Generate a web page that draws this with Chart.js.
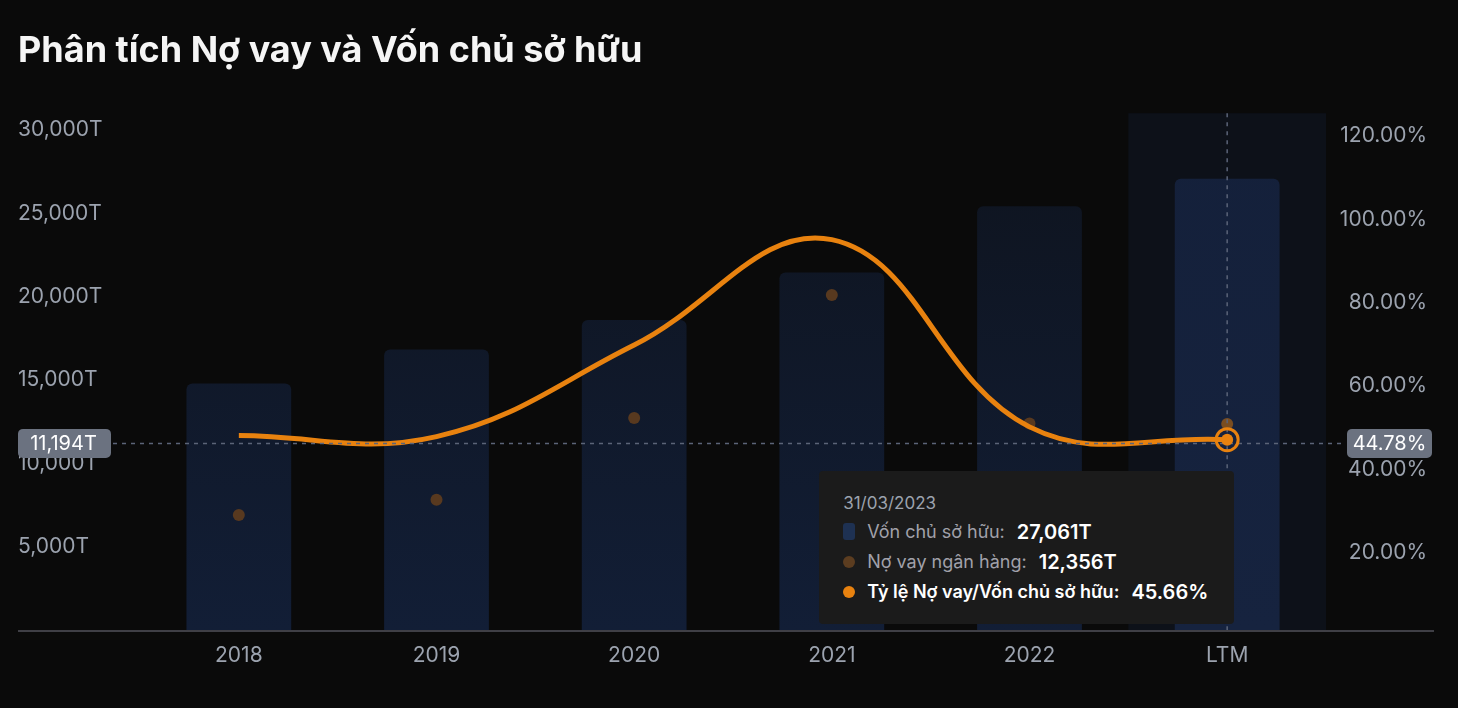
<!DOCTYPE html>
<html lang="vi">
<head>
<meta charset="utf-8">
<title>Phân tích Nợ vay và Vốn chủ sở hữu</title>
<script src="https://cdn.jsdelivr.net/npm/chart.js@4.4.1/dist/chart.umd.min.js"></script>
<style>
    html, body { margin: 0; padding: 0; background: #0a0a0a; }
    #wrap { position: relative; width: 1458px; height: 708px; }
    #debtTip {
        position: absolute; background: #1b1b1b; border-radius: 4px;
        padding: 20px 26px 17px 24px; font-family: Inter, sans-serif;
        color: #a1a1aa; pointer-events: none; white-space: nowrap; opacity: 0;
    }
    #debtTip .t-title { font-size: 17px; line-height: 24px; margin-bottom: 2px; color: #9ca3af; }
    #debtTip .t-row { display: flex; align-items: center; height: 30px; font-size: 18px; }
    #debtTip .t-mark { width: 12px; height: 12px; border-radius: 50%; margin-right: 12px; }
    #debtTip .t-mark.sq { height: 17px; border-radius: 3px; }
    #debtTip .t-val { color: #fff; font-weight: 600; font-size: 20px; margin-left: 12px; }
    #debtTip .t-strong { color: #fff; font-weight: 600; }
</style>
</head>
<body>
<div id="wrap">
    <canvas id="debtChart" width="1458" height="708"></canvas>
    <div id="debtTip"></div>
</div>
<script>
// data
const periods = ['2018', '2019', '2020', '2021', '2022', 'LTM'];
const periodDates = ['31/12/2018', '31/12/2019', '31/12/2020', '31/12/2021', '31/12/2022', '31/03/2023'];
const equity = [14790, 16830, 18590, 21450, 25420, 27061];
const bankDebt = [6900, 7810, 12710, 20090, 12390, 12356];
const debtRatio = [46.65, 46.41, 68.37, 93.66, 48.74, 45.66];
const leftTicks = [5000, 10000, 15000, 20000, 25000, 30000];
const rightTicks = [20, 40, 60, 80, 100, 120];
const activeIndex = 5;
const cursorValue = 11194;

const ORANGE = '#e8820f';
const fmtT = v => Math.round(v).toLocaleString('en-US') + 'T';
const fmtPct = v => v.toFixed(2) + '%';

function barFill(c, hover) {
    const { ctx, chartArea } = c.chart;
    if (!chartArea) return hover ? '#15223d' : '#101828';
    const g = ctx.createLinearGradient(0, chartArea.top, 0, chartArea.bottom);
    if (hover) {
        g.addColorStop(0, '#14203a');
        g.addColorStop(1, '#16233f');
    } else {
        g.addColorStop(0, '#0e131d');
        g.addColorStop(1, '#121e36');
    }
    return g;
}

const crosshair = {
    id: 'crosshair',
    beforeDatasetsDraw(chart) {
        const { ctx, chartArea, scales: { x } } = chart;
        const cx = x.getPixelForValue(activeIndex);
        const w = x.width / periods.length;
        ctx.save();
        ctx.fillStyle = '#0d1119';
        ctx.fillRect(cx - w / 2, chartArea.top, w, chartArea.bottom - chartArea.top);
        ctx.restore();
    },
    afterDatasetsDraw(chart) {
        const { ctx, chartArea, scales: { x, y, y1 } } = chart;
        const cx = x.getPixelForValue(activeIndex);
        const cy = y.getPixelForValue(cursorValue);

        // axis line across the full width
        ctx.save();
        ctx.strokeStyle = '#52525b';
        ctx.lineWidth = 1.5;
        ctx.beginPath();
        ctx.moveTo(18, chartArea.bottom + 1);
        ctx.lineTo(1434, chartArea.bottom + 1);
        ctx.stroke();

        ctx.font = '20px Inter';
        const leftText = fmtT(cursorValue);
        const rightText = fmtPct(y1.getValueForPixel(cy));
        const lw = 93, rw = 85;
        const lx = 18, rx = 1432 - rw;

        ctx.strokeStyle = '#5b6478';
        ctx.lineWidth = 1.5;
        ctx.setLineDash([4, 5]);
        ctx.beginPath();
        ctx.moveTo(cx, chartArea.top);
        ctx.lineTo(cx, chartArea.bottom);
        ctx.moveTo(lx + lw + 2, cy);
        ctx.lineTo(rx - 2, cy);
        ctx.stroke();
        ctx.setLineDash([]);

        ctx.fillStyle = '#6b7280';
        ctx.beginPath();
        ctx.roundRect(lx, cy - 14.5, lw, 29, 5);
        ctx.roundRect(rx, cy - 14.5, rw, 29, 5);
        ctx.fill();
        ctx.fillStyle = '#ffffff';
        ctx.textBaseline = 'middle';
        ctx.textAlign = 'center';
        ctx.fillText(leftText, lx + lw / 2 - 1, cy + 1);
        ctx.fillText(rightText, rx + rw / 2, cy + 1);

        // hovered ratio point
        const pt = chart.getDatasetMeta(2).data[activeIndex];
        ctx.strokeStyle = ORANGE;
        ctx.lineWidth = 3;
        ctx.beginPath();
        ctx.arc(pt.x, pt.y, 11, 0, Math.PI * 2);
        ctx.stroke();
        ctx.fillStyle = ORANGE;
        ctx.beginPath();
        ctx.arc(pt.x, pt.y, 6, 0, Math.PI * 2);
        ctx.fill();
        ctx.restore();
    }
};

function externalTip(context) {
    const { chart, tooltip } = context;
    const el = document.getElementById('debtTip');
    if (tooltip.opacity === 0 || !tooltip.dataPoints) { el.style.opacity = 0; return; }
    const marks = ['sq" style="background:#1e3152', '" style="background:#5c3d20', '" style="background:' + ORANGE];
    let html = '<div class="t-title">' + periodDates[tooltip.dataPoints[0].dataIndex] + '</div>';
    tooltip.dataPoints.forEach(dp => {
        const i = dp.datasetIndex;
        const val = i === 2 ? fmtPct(dp.raw) : fmtT(dp.raw);
        html += '<div class="t-row"><span class="t-mark ' + marks[i] + '"></span>' +
            '<span class="' + (i === 2 ? 't-strong' : '') + '">' + dp.dataset.label + ':</span>' +
            '<span class="t-val">' + val + '</span></div>';
    });
    el.innerHTML = html;
    const pt = chart.getDatasetMeta(2).data[activeIndex];
    el.style.left = (pt.x + 7 - el.offsetWidth) + 'px';
    el.style.top = (pt.y + 31) + 'px';
    el.style.opacity = 1;
}

const tickFont = { family: 'Inter', size: 21 };
const ctx = document.getElementById('debtChart').getContext('2d');
const chart = new Chart(ctx, {
    data: {
        labels: periods,
        datasets: [
            {
                type: 'bar',
                label: 'Vốn chủ sở hữu',
                data: equity,
                yAxisID: 'y',
                order: 3,
                backgroundColor: c => barFill(c, false),
                hoverBackgroundColor: c => barFill(c, true),
                borderRadius: { topLeft: 6, topRight: 6 },
                borderSkipped: 'bottom',
                barPercentage: 0.53,
                categoryPercentage: 1
            },
            {
                type: 'line',
                label: 'Nợ vay ngân hàng',
                data: bankDebt,
                yAxisID: 'y',
                order: 2,
                showLine: false,
                pointRadius: 6,
                pointBorderWidth: 0,
                pointBackgroundColor: '#58391f',
                pointHoverRadius: 6,
                pointHoverBorderWidth: 0,
                pointHoverBackgroundColor: '#7a4d20'
            },
            {
                type: 'line',
                label: 'Tỷ lệ Nợ vay/Vốn chủ sở hữu',
                data: debtRatio,
                yAxisID: 'y1',
                order: 1,
                borderColor: ORANGE,
                borderWidth: 5,
                tension: 0.4,
                pointRadius: 0,
                pointHoverRadius: 0
            }
        ]
    },
    options: {
        responsive: false,
        animation: false,
        interaction: { mode: 'index', intersect: false },
        layout: { padding: { left: 18, right: 31, top: 0, bottom: 0 } },
        plugins: {
            legend: { display: false },
            title: {
                display: true,
                text: 'Phân tích Nợ vay và Vốn chủ sở hữu',
                align: 'start',
                color: '#f5f5f5',
                font: { family: 'Inter', size: 36, weight: '700' },
                padding: { top: 30, bottom: 40 }
            },
            tooltip: { enabled: false, external: externalTip }
        },
        scales: {
            x: {
                grid: { display: false, drawTicks: false },
                border: { display: false },
                ticks: { color: '#9ca3af', font: tickFont, padding: 13 },
                afterFit: s => { s.height = 78; }
            },
            y: {
                position: 'left',
                min: 0,
                max: 31000,
                grid: { display: false, drawTicks: false },
                border: { display: false },
                afterBuildTicks: s => { s.ticks = leftTicks.map(v => ({ value: v })); },
                afterFit: s => { s.width = 122; },
                ticks: { color: '#9ca3af', font: tickFont, crossAlign: 'far', padding: 0, callback: v => fmtT(v) }
            },
            y1: {
                position: 'right',
                min: 0,
                max: 124,
                grid: { display: false, drawTicks: false },
                border: { display: false },
                afterBuildTicks: s => { s.ticks = rightTicks.map(v => ({ value: v })); },
                afterFit: s => { s.width = 101; },
                ticks: { color: '#9ca3af', font: tickFont, crossAlign: 'far', padding: 0, labelOffset: 6, callback: v => fmtPct(v) }
            }
        }
    },
    plugins: [crosshair]
});

const active = [0, 1, 2].map(i => ({ datasetIndex: i, index: activeIndex }));
chart.setActiveElements(active);
const p = chart.getDatasetMeta(2).data[activeIndex];
chart.tooltip.setActiveElements(active, { x: p.x, y: p.y });
chart.update();
</script>
</body>
</html>
